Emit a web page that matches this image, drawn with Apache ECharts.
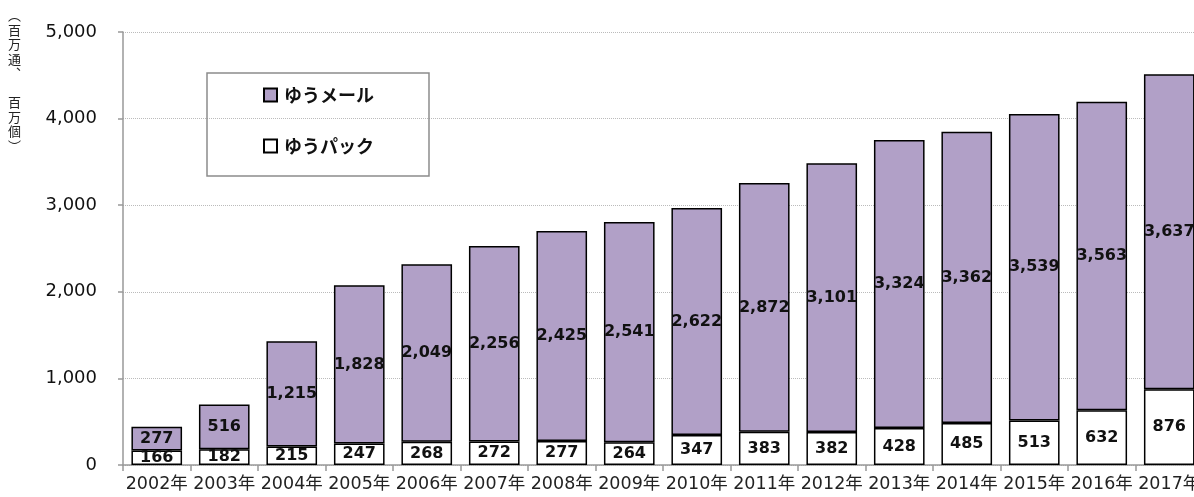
<!DOCTYPE html>
<html>
<head>
<meta charset="utf-8">
<script src="https://cdn.jsdelivr.net/npm/echarts@6/dist/echarts.min.js"></script>
<style>
  html, body { margin: 0; padding: 0; background: #fff; }
  #chart { width: 1194px; height: 497px; }
</style>
</head>
<body>
<div id="chart"></div>
<script>
// 年度
const years = ['2002年', '2003年', '2004年', '2005年', '2006年', '2007年', '2008年', '2009年',
    '2010年', '2011年', '2012年', '2013年', '2014年', '2015年', '2016年', '2017年'];
// ゆうパック（百万個）
const yuPack = [166, 182, 215, 247, 268, 272, 277, 264, 347, 383, 382, 428, 485, 513, 632, 876];
// ゆうメール（百万通）
const yuMail = [277, 516, 1215, 1828, 2049, 2256, 2425, 2541, 2622, 2872, 3101, 3324, 3362, 3539, 3563, 3637];

const fontFamily = '"DejaVu Sans", "Noto Sans CJK JP", sans-serif';
const cjkFont = '"Noto Sans CJK JP", sans-serif';
const purple = '#b1a0c7';

const chart = echarts.init(document.getElementById('chart'));

const labelStyle = {
    show: true,
    position: 'inside',
    color: '#111',
    fontWeight: 'bold',
    fontSize: 16,
    fontFamily: fontFamily,
    formatter: (p) => p.value.toLocaleString('en-US')
};

const option = {
    animation: false,
    backgroundColor: '#fff',
    grid: { left: 123, top: 32, width: 1080, height: 433, containLabel: false, outerBoundsMode: 'none' },
    legend: {
        data: ['ゆうメール', 'ゆうパック'],
        orient: 'vertical',
        left: 207,
        top: 73,
        padding: [13, 55, 21, 56],
        itemGap: 33,
        itemWidth: 13,
        itemHeight: 13,
        icon: 'rect',
        borderColor: '#8c8c8c',
        borderWidth: 1.5,
        textStyle: { fontSize: 18, fontWeight: 'bold', color: '#111', fontFamily: cjkFont, padding: [0, 0, 0, 2] },
        selectedMode: false
    },
    xAxis: {
        type: 'category',
        data: years,
        axisLine: { lineStyle: { color: '#999', width: 1.5 } },
        axisTick: { show: true, length: 6, lineStyle: { color: '#999', width: 1.5 } },
        axisLabel: { color: '#222', fontSize: 17.5, fontFamily: fontFamily, margin: 11, interval: 0 }
    },
    yAxis: {
        type: 'value',
        min: 0,
        max: 5000,
        interval: 1000,
        axisLine: { show: true, lineStyle: { color: '#999', width: 1.5 } },
        axisTick: { show: true, length: 5, lineStyle: { color: '#999', width: 1.5 } },
        splitLine: { lineStyle: { color: '#bbb', type: 'dotted', width: 1 } },
        axisLabel: {
            color: '#111', fontSize: 18, fontFamily: fontFamily, margin: 26,
            formatter: (v) => v.toLocaleString('en-US')
        }
    },
    graphic: [{
        type: 'text',
        left: 8,
        top: 8,
        style: {
            text: '︵\n百\n万\n通\n︑\n\n百\n万\n個\n︶',
            fontFamily: cjkFont,
            fontSize: 13,
            fill: '#222',
            lineHeight: 14.5,
            align: 'center'
        }
    }],
    series: [{
        name: 'ゆうパック',
        type: 'bar',
        stack: 'total',
        data: yuPack,
        barCategoryGap: '25%',
        itemStyle: { color: '#fff', borderColor: '#000', borderWidth: 1.5 },
        label: labelStyle
    }, {
        name: 'ゆうメール',
        type: 'bar',
        stack: 'total',
        data: yuMail,
        barCategoryGap: '25%',
        itemStyle: { color: purple, borderColor: '#000', borderWidth: 1.5 },
        label: labelStyle
    }]
};

chart.setOption(option);
</script>
</body>
</html>
